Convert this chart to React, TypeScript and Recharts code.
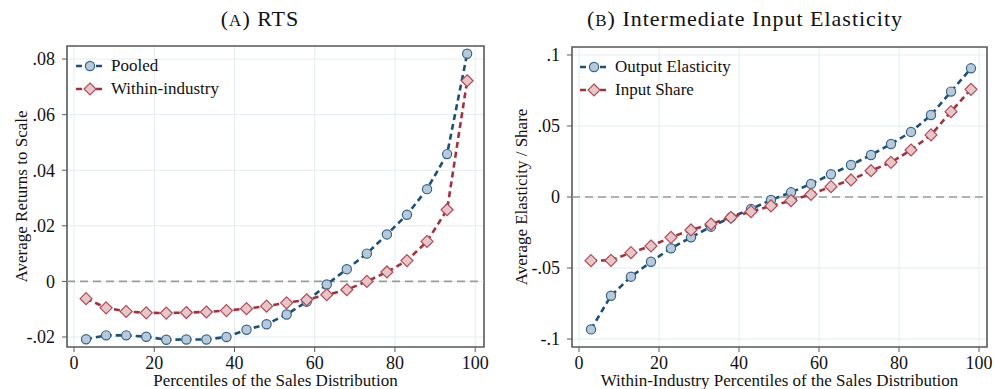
import React from 'react';
import { LineChart, Line, XAxis, YAxis, CartesianGrid, ReferenceLine, ReferenceArea } from 'recharts';

const percentiles = [3, 8, 13, 18, 23, 28, 33, 38, 43, 48, 53, 58, 63, 68, 73, 78, 83, 88, 93, 98];

// Panel A: Returns to scale
const pooled = [-0.0208, -0.0194, -0.0194, -0.0199, -0.021, -0.0209, -0.0209, -0.02, -0.0174, -0.0154, -0.0119, -0.0073, -0.0011, 0.0044, 0.01, 0.0169, 0.024, 0.0332, 0.0458, 0.0819];
const withinIndustry = [-0.0062, -0.0095, -0.0108, -0.0113, -0.0114, -0.0112, -0.011, -0.0105, -0.0098, -0.0089, -0.0077, -0.0066, -0.0048, -0.003, 0.0, 0.0034, 0.0075, 0.0144, 0.0258, 0.0722];

// Panel B: Intermediate input elasticity
const outputElasticity = [-0.0932, -0.0695, -0.0561, -0.0456, -0.0361, -0.0284, -0.0209, -0.0143, -0.0085, -0.0021, 0.0033, 0.0092, 0.016, 0.0225, 0.0296, 0.0373, 0.0458, 0.0577, 0.0742, 0.0906];
const inputShare = [-0.0448, -0.0446, -0.0392, -0.0345, -0.0284, -0.0232, -0.019, -0.0143, -0.0103, -0.0063, -0.0026, 0.0019, 0.0073, 0.012, 0.0185, 0.0244, 0.0331, 0.0437, 0.0601, 0.0758];

const xTicks = [0, 20, 40, 60, 80, 100];
const yTicksA = [-0.02, 0, 0.02, 0.04, 0.06, 0.08];
const yTicksB = [-0.1, -0.05, 0, 0.05, 0.1];

const xDomainA: [number, number] = [-1.75, 102.2];
const yDomainA: [number, number] = [-0.0236, 0.0847];
const xDomainB: [number, number] = [-1.75, 102];
const yDomainB: [number, number] = [-0.1056, 0.1056];

const dataA = percentiles.map((p, i) => ({ p, pooled: pooled[i], within: withinIndustry[i] }));
const dataB = percentiles.map((p, i) => ({ p, output: outputElasticity[i], share: inputShare[i] }));

const FONT = '"Liberation Serif", "Times New Roman", Times, "DejaVu Serif", serif';
const BLUE = '#1d4f78';
const BLUE_FILL = '#b8cad9';
const BLUE_EDGE = '#33648c';
const RED = '#a3313d';
const RED_FILL = '#e6c6c8';
const RED_EDGE = '#b24a56';
const GRID = '#e2ecef';
const FRAME = '#5a5a5a';

const fmt = (v: number) => {
  if (v === 0) return '0';
  const s = String(Number(v.toFixed(4)));
  return s.replace(/^(-?)0\./, '$1.');
};

const CircleDot = (props: any) => {
  const { cx, cy } = props;
  if (cx == null || cy == null) return null;
  return <circle cx={cx} cy={cy} r={4.6} fill={BLUE_FILL} stroke={BLUE_EDGE} strokeWidth={1.2} />;
};

const DiamondDot = (props: any) => {
  const { cx, cy } = props;
  if (cx == null || cy == null) return null;
  const h = 6;
  return (
    <polygon
      points={`${cx},${cy - h} ${cx + h},${cy} ${cx},${cy + h} ${cx - h},${cy}`}
      fill={RED_FILL}
      stroke={RED_EDGE}
      strokeWidth={1.2}
    />
  );
};

const LegendIcon = ({ kind }: { kind: 'circle' | 'diamond' }) => (
  <svg width={30} height={16} style={{ display: 'block' }}>
    <line x1={1} y1={8} x2={29} y2={8} stroke={kind === 'circle' ? BLUE : RED} strokeWidth={2.6} strokeDasharray="6 4" />
    {kind === 'circle' ? (
      <circle cx={15} cy={8} r={4.6} fill={BLUE_FILL} stroke={BLUE_EDGE} strokeWidth={1.2} />
    ) : (
      <polygon points="15,2 21,8 15,14 9,8" fill={RED_FILL} stroke={RED_EDGE} strokeWidth={1.2} />
    )}
  </svg>
);

const LegendBox = ({ items, left, top }: { items: { label: string; kind: 'circle' | 'diamond' }[]; left: number; top: number }) => (
  <div style={{ position: 'absolute', left, top, fontFamily: FONT, fontSize: 17, color: '#111' }}>
    {items.map((it) => (
      <div key={it.label} style={{ display: 'flex', alignItems: 'center', height: 23 }}>
        <LegendIcon kind={it.kind} />
        <span style={{ marginLeft: 6 }}>{it.label}</span>
      </div>
    ))}
  </div>
);

const tickStyle = { fontFamily: FONT, fontSize: 18, fill: '#111' };
const labelStyle = { fontFamily: FONT, fontSize: 17, fill: '#111' };

export default function App() {
  return (
    <div style={{ position: 'absolute', left: 0, top: 0, width: 995, height: 389, background: '#fff', fontFamily: FONT }}>
      <div style={{ position: 'absolute', left: 130, width: 260, top: 6, textAlign: 'center', fontSize: 22, letterSpacing: 1, color: '#111' }}>
        (<span style={{ fontSize: 17 }}>A</span>) RTS
      </div>
      <div style={{ position: 'absolute', left: 565, width: 360, top: 6, textAlign: 'center', fontSize: 22, letterSpacing: 1, color: '#111' }}>
        (<span style={{ fontSize: 17 }}>B</span>) Intermediate Input Elasticity
      </div>

      <div style={{ position: 'absolute', left: 0, top: 0 }}>
        <LineChart width={495} height={389} data={dataA} margin={{ top: 46, right: 11, bottom: 0, left: 0 }}>
          <CartesianGrid stroke={GRID} strokeWidth={1} />
          <XAxis
            dataKey="p"
            type="number"
            domain={xDomainA}
            ticks={xTicks}
            allowDataOverflow
            height={42}
            axisLine={false}
            tickLine={{ stroke: FRAME }}
            tickSize={5}
            tickMargin={4}
            tick={tickStyle}
            label={{ value: 'Percentiles of the Sales Distribution', position: 'center', dy: 12, style: labelStyle }}
          />
          <YAxis
            type="number"
            domain={yDomainA}
            ticks={yTicksA}
            allowDataOverflow
            width={67}
            axisLine={false}
            tickLine={{ stroke: FRAME }}
            tickSize={5}
            tickMargin={7}
            tickFormatter={fmt}
            tick={tickStyle}
            label={{ value: 'Average Returns to Scale', angle: -90, position: 'center', dx: -13, style: { ...labelStyle, textAnchor: 'middle' } }}
          />
          <ReferenceLine y={0} stroke="#9b9b9b" strokeWidth={1.6} strokeDasharray="8 5" />
          <Line dataKey="pooled" stroke={BLUE} strokeWidth={2.6} strokeDasharray="6 4" dot={<CircleDot />} isAnimationActive={false} />
          <Line dataKey="within" stroke={RED} strokeWidth={2.6} strokeDasharray="6 4" dot={<DiamondDot />} isAnimationActive={false} />
          <ReferenceArea x1={xDomainA[0]} x2={xDomainA[1]} y1={yDomainA[0]} y2={yDomainA[1]} fill="none" fillOpacity={0} stroke={FRAME} strokeWidth={1.6} />
        </LineChart>
      </div>

      <div style={{ position: 'absolute', left: 495, top: 0 }}>
        <LineChart width={500} height={389} data={dataB} margin={{ top: 47, right: 8, bottom: 0, left: 0 }}>
          <CartesianGrid stroke={GRID} strokeWidth={1} />
          <XAxis
            dataKey="p"
            type="number"
            domain={xDomainB}
            ticks={xTicks}
            allowDataOverflow
            height={42}
            axisLine={false}
            tickLine={{ stroke: FRAME }}
            tickSize={5}
            tickMargin={4}
            tick={tickStyle}
            label={{ value: 'Within-Industry Percentiles of the Sales Distribution', position: 'center', dy: 12, style: labelStyle }}
          />
          <YAxis
            type="number"
            domain={yDomainB}
            ticks={yTicksB}
            allowDataOverflow
            width={77}
            axisLine={false}
            tickLine={{ stroke: FRAME }}
            tickSize={5}
            tickMargin={7}
            tickFormatter={fmt}
            tick={tickStyle}
            label={{ value: 'Average Elasticity / Share', angle: -90, position: 'center', dx: -13, style: { ...labelStyle, textAnchor: 'middle' } }}
          />
          <ReferenceLine y={0} stroke="#9b9b9b" strokeWidth={1.6} strokeDasharray="8 5" />
          <Line dataKey="output" stroke={BLUE} strokeWidth={2.6} strokeDasharray="6 4" dot={<CircleDot />} isAnimationActive={false} />
          <Line dataKey="share" stroke={RED} strokeWidth={2.6} strokeDasharray="6 4" dot={<DiamondDot />} isAnimationActive={false} />
          <ReferenceArea x1={xDomainB[0]} x2={xDomainB[1]} y1={yDomainB[0]} y2={yDomainB[1]} fill="none" fillOpacity={0} stroke={FRAME} strokeWidth={1.6} />
        </LineChart>
      </div>

      <LegendBox
        left={75}
        top={54}
        items={[
          { label: 'Pooled', kind: 'circle' },
          { label: 'Within-industry', kind: 'diamond' },
        ]}
      />
      <LegendBox
        left={579}
        top={55}
        items={[
          { label: 'Output Elasticity', kind: 'circle' },
          { label: 'Input Share', kind: 'diamond' },
        ]}
      />
    </div>
  );
}
